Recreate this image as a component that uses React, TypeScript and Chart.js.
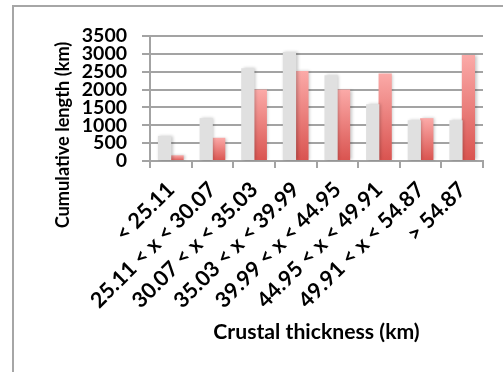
import React, { useEffect, useRef } from "react";
import { Chart, registerables } from "chart.js";

Chart.register(...registerables);

const categories: string[] = [
  "< 25.11",
  "25.11 < x < 30.07",
  "30.07 < x < 35.03",
  "35.03 < x < 39.99",
  "39.99 < x < 44.95",
  "44.95 < x < 49.91",
  "49.91 < x < 54.87",
  "> 54.87",
];
const seriesGray: number[] = [700, 1200, 2600, 3050, 2400, 1590, 1140, 1140];
const seriesRed: number[] = [160, 650, 2000, 2520, 2000, 2450, 1200, 2970];
const yMin = 0;
const yMax = 3500;
const yStep = 500;
const xTitle = "Crustal thickness (km)";
const yTitle = "Cumulative length (km)";

const FONT = "Lato, 'Open Sans', sans-serif";
const GRID = "#a3a3a3";

export default function App() {
  const ref = useRef<HTMLCanvasElement | null>(null);

  useEffect(() => {
    if (!ref.current) return;

    const redGradient = (c: any) => {
      const chart = c.chart;
      if (!chart.chartArea || c.raw === undefined || !chart.scales.y) return "#e87370";
      const ys = chart.scales.y;
      const top = ys.getPixelForValue(c.raw);
      const bottom = ys.getPixelForValue(0);
      if (!isFinite(top) || !isFinite(bottom) || top === bottom) return "#e87370";
      const g = chart.ctx.createLinearGradient(0, top, 0, bottom);
      g.addColorStop(0, "#fbaaa8");
      g.addColorStop(1, "#d9534f");
      return g;
    };

    const shadowPlugin = {
      id: "barShadow",
      beforeDatasetsDraw(chart: any) {
        const ctx = chart.ctx;
        ctx.save();
        ctx.shadowColor = "rgba(0,0,0,0.22)";
        ctx.shadowBlur = 3;
        ctx.shadowOffsetX = 1.5;
        ctx.shadowOffsetY = 0;
      },
      afterDatasetsDraw(chart: any) {
        chart.ctx.restore();
      },
    };

    const yTitlePlugin = {
      id: "yTitle",
      afterDraw(chart: any) {
        const ctx = chart.ctx;
        ctx.save();
        ctx.translate(63, 135);
        ctx.rotate(-Math.PI / 2);
        ctx.font = `bold 18.2px ${FONT}`;
        ctx.fillStyle = "#000";
        ctx.textAlign = "center";
        ctx.textBaseline = "middle";
        ctx.fillText(yTitle, 0, 0);
        ctx.restore();
      },
    };

    const chart = new Chart(ref.current, {
      type: "bar",
      data: {
        labels: categories,
        datasets: [
          {
            label: "A",
            data: seriesGray,
            backgroundColor: "#e0e0e0",
            borderWidth: 0,
            categoryPercentage: 0.6,
            barPercentage: 1.06,
          },
          {
            label: "B",
            data: seriesRed,
            backgroundColor: redGradient,
            borderWidth: 0,
            categoryPercentage: 0.6,
            barPercentage: 1.06,
          },
        ],
      },
      options: {
        animation: false,
        responsive: false,
        maintainAspectRatio: false,
        devicePixelRatio: 1,
        layout: { padding: { left: 0, top: 36, right: 20, bottom: 0 } },
        plugins: {
          legend: { display: false },
          tooltip: { enabled: false },
          title: { display: false },
        },
        scales: {
          x: {
            afterFit: (s: any) => {
              s.height = 372 - 161;
            },
            grid: {
              offset: true,
              drawOnChartArea: false,
              drawTicks: true,
              tickLength: 7,
              color: GRID,
              lineWidth: 2,
            },
            border: { display: true, color: GRID, width: 2 },
            ticks: {
              autoSkip: false,
              minRotation: 45,
              maxRotation: 45,
              padding: 9,
              color: "#000",
              font: { family: FONT, weight: "bold", size: 21.5 },
            },
            title: {
              display: true,
              text: xTitle,
              color: "#000",
              font: { family: FONT, weight: "bold", size: 21.2 },
              padding: { top: 0, bottom: 27 },
            },
          },
          y: {
            min: yMin,
            max: yMax,
            afterFit: (s: any) => {
              s.width = 150;
            },
            grid: {
              color: GRID,
              lineWidth: 2,
              tickLength: 8,
              drawTicks: true,
            },
            border: { display: true, color: GRID, width: 2 },
            ticks: {
              stepSize: yStep,
              autoSkip: false,
              padding: 15,
              color: "#000",
              font: { family: FONT, weight: "bold", size: 19.5 },
              callback: (v: any) => String(v),
            },
          },
        },
      },
      plugins: [shadowPlugin, yTitlePlugin],
    } as any);

    return () => chart.destroy();
  }, []);

  return (
    <div
      style={{
        position: "fixed",
        left: 0,
        top: 0,
        width: 503,
        height: 372,
        overflow: "hidden",
        background: "#fff",
      }}
    >
      <div
        style={{
          position: "absolute",
          left: 12,
          top: 5,
          width: 600,
          height: 500,
          border: "2px solid #a6a6a6",
          boxSizing: "border-box",
        }}
      />
      <canvas
        ref={ref}
        width={503}
        height={372}
        style={{ position: "absolute", left: 0, top: 0, width: 503, height: 372 }}
      />
    </div>
  );
}
